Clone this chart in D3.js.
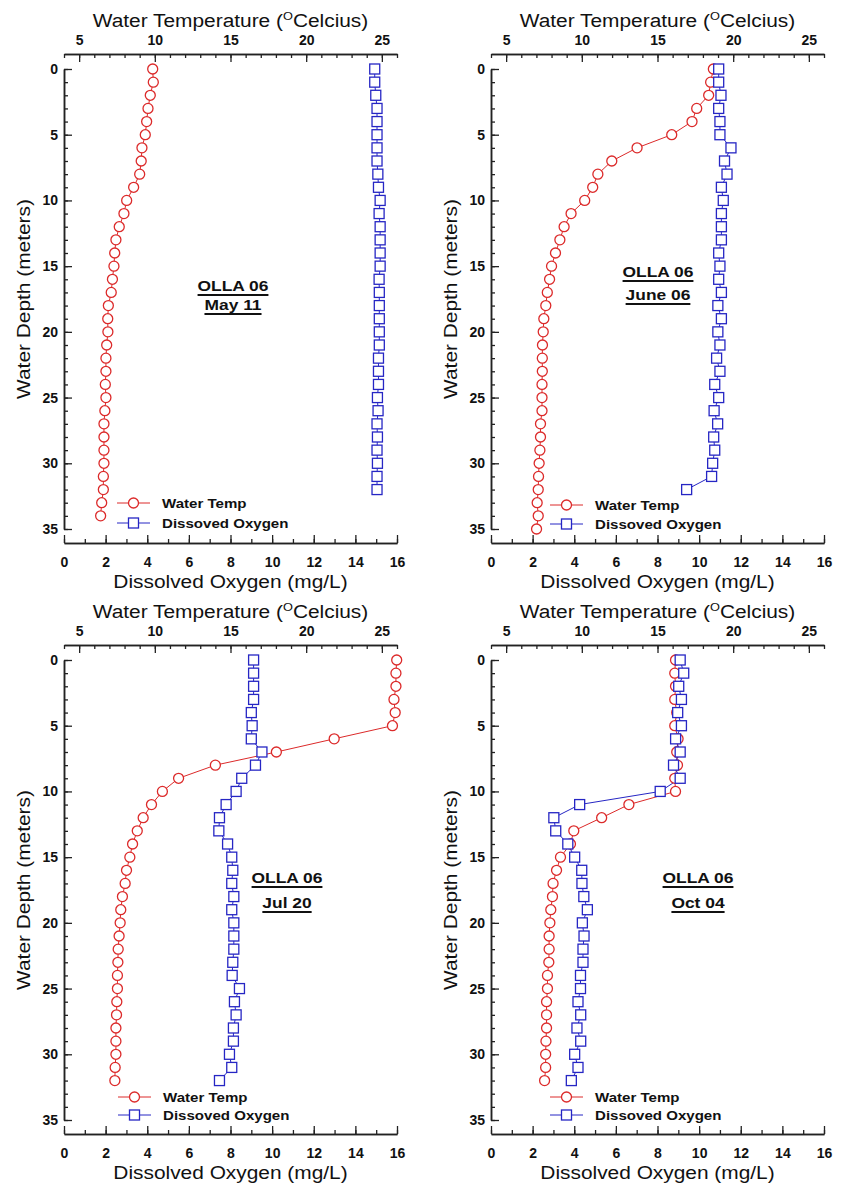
<!DOCTYPE html>
<html>
<head>
<meta charset="utf-8">
<script src="https://cdn.jsdelivr.net/npm/d3@7"></script>
<style>
  body { margin: 0; background: #fff; }
  svg { display: block; font-family: "Liberation Sans", Arial, sans-serif; }
</style>
</head>
<body>
<div id="chart"></div>
<script>
// depth profiles, one value per metre starting at 0 m
const tempMay = [9.86, 9.9, 9.7, 9.55, 9.46, 9.37, 9.15, 9.1, 9.0, 8.6, 8.14, 7.96, 7.65, 7.43, 7.35, 7.3, 7.2, 7.12, 6.93, 6.89, 6.9, 6.82, 6.77, 6.77, 6.73, 6.77, 6.7, 6.64, 6.64, 6.64, 6.64, 6.6, 6.6, 6.49, 6.42];
const oxyMay = [14.93, 14.93, 14.98, 15.04, 15.04, 15.04, 15.04, 15.04, 15.08, 15.11, 15.19, 15.14, 15.19, 15.19, 15.19, 15.19, 15.14, 15.15, 15.15, 15.15, 15.15, 15.15, 15.11, 15.11, 15.11, 15.06, 15.09, 15.04, 15.06, 15.04, 15.06, 15.04, 15.04];

const tempJun = [18.69, 18.51, 18.38, 17.59, 17.28, 15.94, 13.65, 11.98, 11.06, 10.72, 10.19, 9.29, 8.83, 8.55, 8.26, 8.0, 7.87, 7.72, 7.62, 7.49, 7.45, 7.4, 7.39, 7.39, 7.37, 7.37, 7.37, 7.27, 7.27, 7.23, 7.18, 7.14, 7.12, 7.05, 7.12, 7.01];
const oxyJun = [10.94, 10.94, 11.05, 10.94, 11.0, 11.0, 11.53, 11.22, 11.34, 11.07, 11.16, 11.07, 11.07, 11.07, 10.94, 11.0, 10.94, 11.07, 10.9, 11.07, 10.9, 11.0, 10.84, 11.0, 10.75, 10.94, 10.72, 10.89, 10.7, 10.75, 10.65, 10.6, 9.4];

const tempJul = [25.98, 25.93, 25.93, 25.8, 25.88, 25.7, 21.85, 18.03, 14.0, 11.57, 10.5, 9.78, 9.23, 8.84, 8.53, 8.35, 8.13, 8.04, 7.86, 7.75, 7.71, 7.64, 7.58, 7.56, 7.53, 7.53, 7.49, 7.47, 7.43, 7.43, 7.43, 7.38, 7.36];
const oxyJul = [9.11, 9.11, 9.11, 9.11, 9.0, 9.04, 9.0, 9.51, 9.2, 8.54, 8.27, 7.79, 7.47, 7.44, 7.86, 8.06, 8.11, 8.06, 8.16, 8.06, 8.16, 8.16, 8.16, 8.11, 8.08, 8.43, 8.19, 8.27, 8.14, 8.14, 7.95, 8.06, 7.47];

const tempOct = [16.19, 16.14, 16.19, 16.14, 16.27, 16.14, 16.36, 16.27, 16.32, 16.14, 16.19, 13.11, 11.31, 9.47, 9.25, 8.59, 8.33, 8.1, 8.06, 7.95, 7.89, 7.84, 7.84, 7.82, 7.73, 7.73, 7.67, 7.67, 7.67, 7.63, 7.61, 7.61, 7.54];
const oxyOct = [9.09, 9.26, 9.02, 9.15, 8.97, 9.15, 8.87, 9.09, 8.77, 9.09, 8.13, 4.26, 3.02, 3.11, 3.69, 4.02, 4.36, 4.37, 4.46, 4.63, 4.39, 4.47, 4.42, 4.42, 4.3, 4.3, 4.18, 4.31, 4.13, 4.31, 4.02, 4.18, 3.86];

const stationName = "OLLA 06";
const surveyDates = ["May 11", "June 06", "Jul 20", "Oct 04"];
const seriesNames = ["Water Temp", "Dissoved Oxygen"];

const tempDomain = [4, 26];
const tempMajor = [5, 10, 15, 20, 25];
const oxyDomain = [0, 16];
const oxyMajor = [0, 2, 4, 6, 8, 10, 12, 14, 16];
const depthDomain = [0, 35];
const depthMajor = [0, 5, 10, 15, 20, 25, 30, 35];

const W = 841, H = 1186;
const red = "#dc2a2a", blue = "#2626c4";
const stretch = 1.16; // the original lettering is a bit wide

const panels = [
  { x: 64, y: 54, temp: tempMay, oxy: oxyMay, date: surveyDates[0], lab: [169, 232, 251], leg: [53, 449, 469] },
  { x: 491, y: 54, temp: tempJun, oxy: oxyJun, date: surveyDates[1], lab: [167, 218, 241], leg: [59, 451, 470] },
  { x: 64, y: 645, temp: tempJul, oxy: oxyJul, date: surveyDates[2], lab: [223, 233, 258], leg: [54, 452, 470] },
  { x: 491, y: 645, temp: tempOct, oxy: oxyOct, date: surveyDates[3], lab: [207, 233, 258], leg: [59, 452, 470] }
];

const svg = d3.select("#chart").append("svg")
  .attr("width", W).attr("height", H)
  .attr("viewBox", `0 0 ${W} ${H}`);

// text drawn with a horizontal stretch
function wideText(g, x, y, s, size, weight, anchor, rotate) {
  const t = g.append("g")
    .attr("transform", `translate(${x},${y})${rotate ? "rotate(-90)" : ""}scale(${stretch},1)`)
    .append("text")
    .attr("text-anchor", anchor || "middle")
    .style("font-size", size + "px")
    .style("font-weight", weight || "normal")
    .attr("fill", "#111");
  if (s) t.text(s);
  return t;
}

function styleAxis(sel, minor) {
  sel.select(".domain").attr("stroke", "#222").attr("stroke-width", 1.5);
  sel.selectAll(".tick line").attr("stroke", "#222").attr("stroke-width", 1.3);
  sel.selectAll(".tick text")
    .style("font-size", "14px").style("font-weight", "bold").attr("fill", "#111");
  if (minor) sel.selectAll(".tick text").remove();
}

function drawPanel(p) {
  const w = 333;
  const g = svg.append("g");

  const xTemp = d3.scaleLinear().domain(tempDomain).range([p.x, p.x + w]);
  const xOxy = d3.scaleLinear().domain(oxyDomain).range([p.x, p.x + w]);
  const yDepth = d3.scaleLinear().domain(depthDomain).range([p.y + 15, p.y + 475]);
  const topY = p.y, botY = p.y + 489;

  // top axis: temperature
  g.append("g").attr("transform", `translate(0,${topY})`)
    .call(d3.axisTop(xTemp).tickValues(d3.range(4, 27)).tickSizeInner(-4).tickSizeOuter(0).tickFormat(""))
    .call(s => styleAxis(s, true));
  g.append("g").attr("transform", `translate(0,${topY})`)
    .call(d3.axisTop(xTemp).tickValues(tempMajor).tickSizeInner(-8).tickSizeOuter(0).tickPadding(9))
    .call(s => styleAxis(s));

  // bottom axis: dissolved oxygen
  g.append("g").attr("transform", `translate(0,${botY})`)
    .call(d3.axisBottom(xOxy).tickValues(d3.range(0, 17)).tickSizeInner(-4).tickSizeOuter(0).tickFormat(""))
    .call(s => styleAxis(s, true));
  g.append("g").attr("transform", `translate(0,${botY})`)
    .call(d3.axisBottom(xOxy).tickValues(oxyMajor).tickSizeInner(-8).tickSizeOuter(0).tickPadding(14))
    .call(s => styleAxis(s));

  // left axis: depth
  g.append("g").attr("transform", `translate(${p.x},0)`)
    .call(d3.axisLeft(yDepth).tickValues(d3.range(0, 36)).tickSizeInner(-4).tickSizeOuter(0).tickFormat(""))
    .call(s => styleAxis(s, true));
  g.append("g").attr("transform", `translate(${p.x},0)`)
    .call(d3.axisLeft(yDepth).tickValues(depthMajor).tickSizeInner(-8).tickSizeOuter(0).tickPadding(6))
    .call(s => styleAxis(s));

  // axis titles
  const tt = wideText(g, p.x + w / 2, topY - 27, null, 18);
  tt.append("tspan").text("Water Temperature (");
  tt.append("tspan").text("O").style("font-size", "11px").attr("dy", -7);
  tt.append("tspan").text("Celcius)").attr("dy", 7);
  wideText(g, p.x + w / 2, botY + 45, "Dissolved Oxygen (mg/L)", 18);
  wideText(g, p.x - 34, (yDepth(0) + yDepth(35)) / 2, "Water Depth (meters)", 18, "normal", "middle", true);

  // profiles
  const tempPts = p.temp.map((v, i) => ({ depth: i, v }));
  const oxyPts = p.oxy.map((v, i) => ({ depth: i, v }));

  g.append("path").datum(tempPts)
    .attr("d", d3.line().x(d => xTemp(d.v)).y(d => yDepth(d.depth)))
    .attr("fill", "none").attr("stroke", red).attr("stroke-width", 1);
  g.append("path").datum(oxyPts)
    .attr("d", d3.line().x(d => xOxy(d.v)).y(d => yDepth(d.depth)))
    .attr("fill", "none").attr("stroke", blue).attr("stroke-width", 1);

  g.selectAll(".tc").data(tempPts).join("circle")
    .attr("cx", d => xTemp(d.v)).attr("cy", d => yDepth(d.depth)).attr("r", 5)
    .attr("fill", "#fff").attr("stroke", red).attr("stroke-width", 1.3);
  g.selectAll(".os").data(oxyPts).join("rect")
    .attr("x", d => xOxy(d.v) - 5).attr("y", d => yDepth(d.depth) - 5)
    .attr("width", 10).attr("height", 10)
    .attr("fill", "#fff").attr("stroke", blue).attr("stroke-width", 1.3);

  // station / date label, underlined
  [stationName, p.date].forEach((s, i) => {
    const t = wideText(g, p.x + p.lab[0], p.y + p.lab[i + 1] + 5, s, 15, "bold");
    const len = t.node().getComputedTextLength();
    d3.select(t.node().parentNode).append("line")
      .attr("x1", -len / 2).attr("x2", len / 2).attr("y1", 4).attr("y2", 4)
      .attr("stroke", "#111").attr("stroke-width", 2);
  });

  // legend
  const lx = p.x + p.leg[0];
  [0, 1].forEach(i => {
    const ly = p.y + p.leg[i + 1];
    const c = i === 0 ? red : blue;
    g.append("line").attr("x1", lx).attr("x2", lx + 33).attr("y1", ly).attr("y2", ly)
      .attr("stroke", c).attr("stroke-width", 1);
    if (i === 0) {
      g.append("circle").attr("cx", lx + 16.5).attr("cy", ly).attr("r", 5)
        .attr("fill", "#fff").attr("stroke", c).attr("stroke-width", 1.3);
    } else {
      g.append("rect").attr("x", lx + 11.5).attr("y", ly - 5).attr("width", 10).attr("height", 10)
        .attr("fill", "#fff").attr("stroke", c).attr("stroke-width", 1.3);
    }
    wideText(g, lx + 45, ly + 5, seriesNames[i], 13, "bold", "start");
  });
}

panels.forEach(drawPanel);
</script>
</body>
</html>
